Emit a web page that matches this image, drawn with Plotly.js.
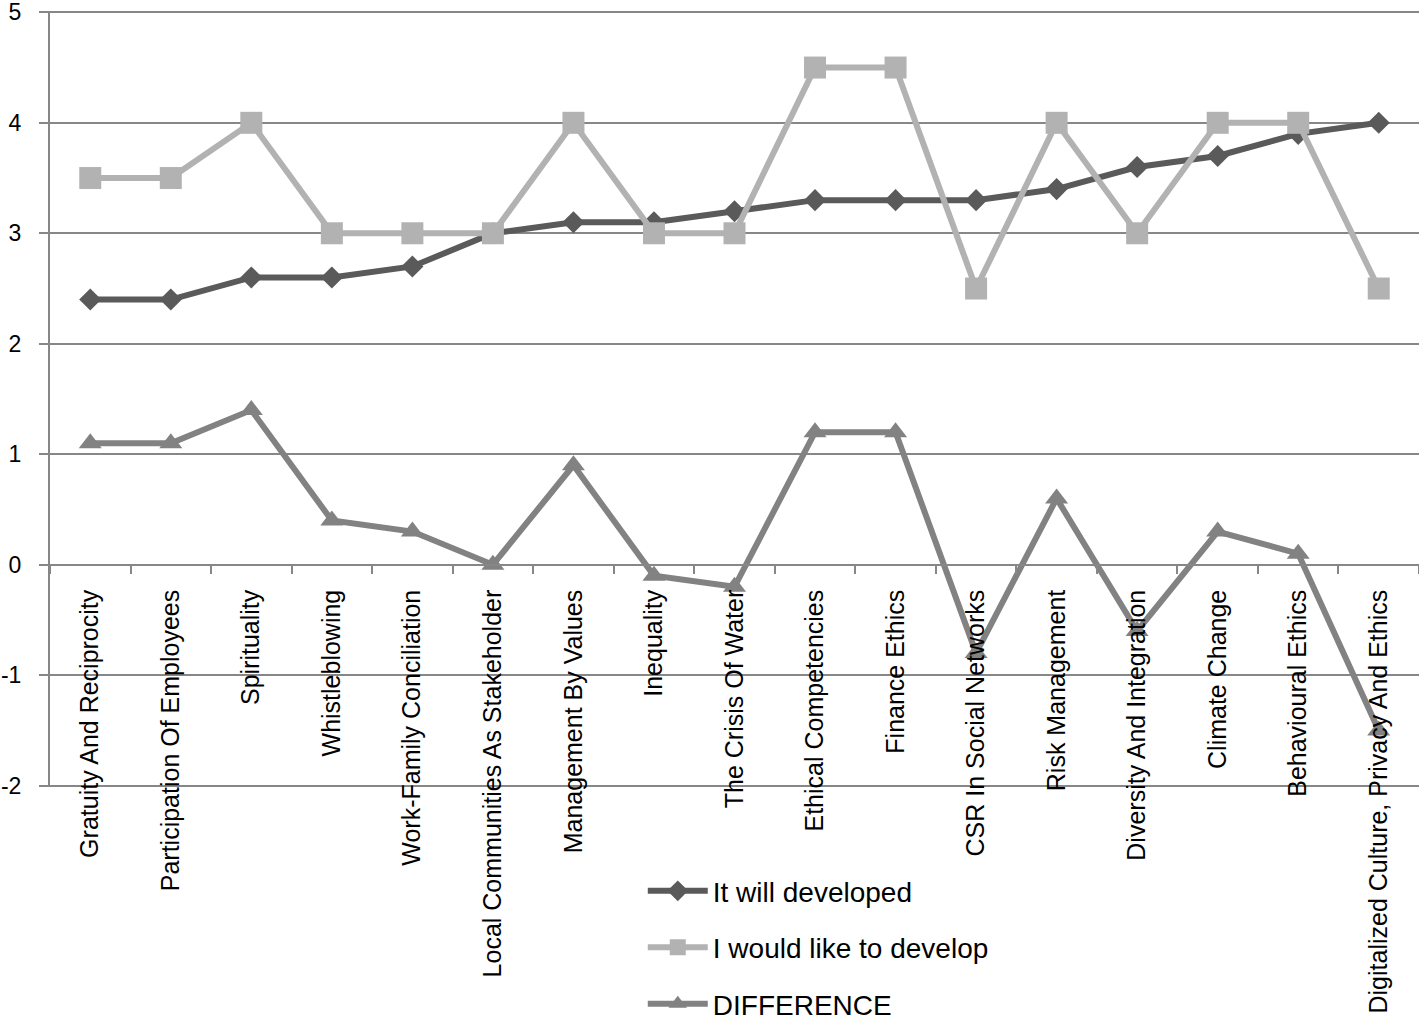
<!DOCTYPE html>
<html>
<head>
<meta charset="utf-8">
<script src="https://cdn.plot.ly/plotly-3.0.1.min.js"></script>
<style>html,body{margin:0;padding:0;background:#fff;}#chart{width:1419px;height:1033px;}</style>
</head>
<body>
<div id="chart"></div>
<script>
const categories = [
  "Gratuity And Reciprocity",
  "Participation Of Employees",
  "Spirituality",
  "Whistleblowing",
  "Work-Family Conciliation",
  "Local Communities As Stakeholder",
  "Management By Values",
  "Inequality",
  "The Crisis Of Water",
  "Ethical Competencies",
  "Finance Ethics",
  "CSR In Social Networks",
  "Risk Management",
  "Diversity And Integration",
  "Climate Change",
  "Behavioural Ethics",
  "Digitalized Culture, Privacy And Ethics"
];
const willDeveloped = [2.4, 2.4, 2.6, 2.6, 2.7, 3.0, 3.1, 3.1, 3.2, 3.3, 3.3, 3.3, 3.4, 3.6, 3.7, 3.9, 4.0];
const wouldLike = [3.5, 3.5, 4.0, 3.0, 3.0, 3.0, 4.0, 3.0, 3.0, 4.5, 4.5, 2.5, 4.0, 3.0, 4.0, 4.0, 2.5];
const difference = [1.1, 1.1, 1.4, 0.4, 0.3, 0.0, 0.9, -0.1, -0.2, 1.2, 1.2, -0.8, 0.6, -0.6, 0.3, 0.1, -1.5];
const seriesNames = ["It will developed", "I would like to develop", "DIFFERENCE"];
const yTicks = [-2, -1, 0, 1, 2, 3, 4, 5];

const FONT = "Liberation Sans, Arial, sans-serif";
const GRID = "#878787";
const Y0 = -2.012, Y1 = 5.012;

const traces = [
  {x: categories, y: willDeveloped, name: seriesNames[0], type: "scatter", mode: "lines+markers",
   legendgroup: "a",
   line: {color: "#5a5a5a", width: 6}, marker: {symbol: "diamond", size: 17, color: "#5a5a5a"}},
  {x: categories, y: wouldLike, name: seriesNames[1], type: "scatter", mode: "lines+markers",
   legendgroup: "b",
   line: {color: "#b2b2b2", width: 6}, marker: {symbol: "square", size: 22, color: "#b2b2b2"}},
  {x: categories, y: difference, name: seriesNames[2], type: "scatter", mode: "lines+markers",
   legendgroup: "c",
   line: {color: "#828282", width: 6}, marker: {symbol: "triangle-up", size: 20, color: "#828282"}}
];

const layout = {
  width: 1419, height: 1033,
  margin: {l: 50, r: 0, t: 11, b: 246, pad: 0},
  paper_bgcolor: "#ffffff", plot_bgcolor: "#ffffff",
  font: {family: FONT, color: "#000000"},
  showlegend: true,
  legend: {
    x: 0.433, xanchor: "left", y: -0.102, yanchor: "top",
    orientation: "v", traceorder: "grouped", tracegroupgap: 17,
    itemwidth: 60,
    font: {family: FONT, size: 28, color: "#000000"},
    bgcolor: "rgba(0,0,0,0)"
  },
  xaxis: {
    type: "category",
    range: [-0.5, 16.5],
    anchor: "free", position: (0 - Y0) / (Y1 - Y0),
    showgrid: false, zeroline: false,
    showline: true, linecolor: GRID, linewidth: 2,
    ticks: "outside", tickson: "boundaries", ticklen: 8, tickcolor: GRID, tickwidth: 2,
    tickangle: -90,
    ticklabelstandoff: 14,
    ticklabeloverflow: "allow",
    tickfont: {family: FONT, size: 25, color: "#000000"},
    layer: "above traces"
  },
  yaxis: {
    range: [Y0, Y1],
    tickmode: "array", tickvals: yTicks, ticktext: yTicks.map(String),
    showgrid: true, gridcolor: GRID, gridwidth: 2,
    zeroline: false,
    showline: true, linecolor: GRID, linewidth: 2,
    ticks: "outside", ticklen: 9, tickcolor: GRID, tickwidth: 2,
    ticklabelstandoff: 13,
    ticklabeloverflow: "allow",
    tickfont: {family: FONT, size: 23, color: "#000000"}
  }
};

Plotly.newPlot("chart", traces, layout, {displayModeBar: false, staticPlot: true});
</script>
</body>
</html>
